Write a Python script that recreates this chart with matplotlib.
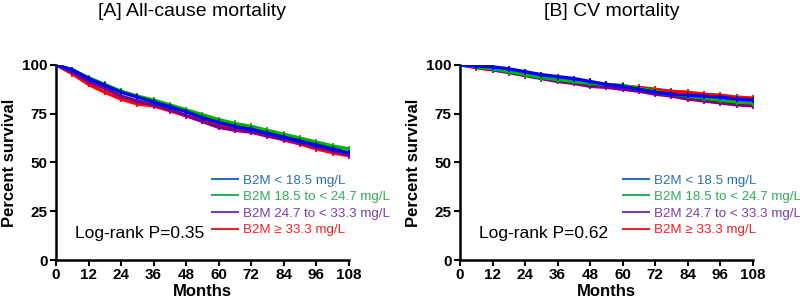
import matplotlib
matplotlib.use("Agg")
import matplotlib.pyplot as plt
from matplotlib.lines import Line2D

plt.rcParams['font.family'] = ['Liberation Sans', 'DejaVu Sans']

# survival (%) read every 6 months
months = [0, 6, 12, 18, 24, 30, 36, 42, 48, 54, 60, 66, 72, 78, 84, 90, 96, 102, 108]

allcause_lt185 = [100, 97.5, 93, 89.5, 86, 83.5, 81, 78.5, 76, 73, 70.5, 68.5, 67, 65, 63, 61, 59, 57, 55]
allcause_185_247 = [100, 97.5, 93.5, 90, 86.5, 84, 82, 79.5, 77, 74.5, 72, 70, 68.5, 66.5, 64.5, 62.5, 60.5, 58.5, 57]
allcause_247_333 = [100, 96.5, 91.5, 88, 84, 81.5, 79.5, 77, 74, 71, 68, 66.5, 65.5, 63.5, 62, 60, 58, 56, 54]
allcause_ge333 = [100, 95.5, 90, 86, 82.5, 80, 79, 76.5, 74, 71.5, 69, 67.5, 66, 64, 61.5, 59.5, 57, 55, 53.5]

cv_lt185 = [100, 99.5, 99, 98, 96.5, 95, 94, 93, 91.5, 90, 89, 87.5, 86, 85, 84.5, 84, 83.5, 82.5, 82]
cv_185_247 = [100, 99, 98, 96.5, 95, 93.5, 92.5, 91.5, 90.5, 90, 89.5, 88, 86.5, 85, 84, 83, 82, 81, 80.5]
cv_247_333 = [100, 99, 97.5, 96, 94.5, 93, 91.5, 90.5, 89, 88.5, 87.5, 86.5, 85, 84, 82.5, 81.5, 80.5, 79.5, 79]
cv_ge333 = [100, 98.5, 97.5, 96.5, 95, 93.5, 92.5, 91.5, 90.5, 89.5, 89, 88.5, 87.5, 86.5, 86, 85, 84.5, 83.5, 83]

group_labels = ['B2M < 18.5 mg/L', 'B2M 18.5 to < 24.7 mg/L',
                'B2M 24.7 to < 33.3 mg/L', 'B2M \u2265 33.3 mg/L']
curve_colors = ['#0000ff', '#00b400', '#800080', '#ff0000']
legend_colors = ['#2a6fb5', '#2fae5a', '#7b3fa6', '#e8232a']

panels = [
    ('[A] All-cause mortality', 'Log-rank P=0.35',
     [allcause_lt185, allcause_185_247, allcause_247_333, allcause_ge333]),
    ('[B] CV mortality', 'Log-rank P=0.62',
     [cv_lt185, cv_185_247, cv_247_333, cv_ge333]),
]

fig = plt.figure(figsize=(8, 3.06), dpi=100)
lefts = [0.07, 0.575]
title_x = [0.24, 0.765]
legend_x = [0.533, 0.556]

for i, (title, ptext, series) in enumerate(panels):
    ax = fig.add_axes([lefts[i], 0.150, 0.366, 0.638])
    # blue group drawn last so it sits on top
    for k in [3, 2, 1, 0]:
        ax.plot(months, series[k], color=curve_colors[k], lw=2.4,
                marker='|', ms=5, mew=1.3, zorder=3 + (3 - k))
    ax.set_xlim(0, 108)
    ax.set_ylim(0, 100)
    ax.set_xticks(range(0, 109, 12))
    ax.set_yticks([0, 25, 50, 75, 100])
    for s in ['top', 'right']:
        ax.spines[s].set_visible(False)
    for s in ['left', 'bottom']:
        ax.spines[s].set_linewidth(1.8)
    ax.tick_params(width=1.5, length=4, labelsize=11, pad=2)
    for lab in ax.get_xticklabels() + ax.get_yticklabels():
        lab.set_fontweight('bold')
    ax.set_xlabel('Months', fontsize=12, fontweight='bold', labelpad=1)
    ax.set_ylabel('Percent survival', fontsize=12, fontweight='bold', labelpad=4)
    ax.text(7, 13.5, ptext, fontsize=12.5, va='center')

    handles = [Line2D([0], [0], color=c, lw=1.5) for c in legend_colors]
    leg = ax.legend(handles, group_labels, loc='upper left',
                    bbox_to_anchor=(legend_x[i], 0.44),
                    frameon=False, fontsize=9.6, handlelength=1.95, handletextpad=0.4,
                    labelspacing=0.32, borderaxespad=0, borderpad=0)
    for t, c in zip(leg.get_texts(), legend_colors):
        t.set_color(c)

    fig.text(title_x[i], 0.962, title, fontsize=14, ha='center', va='center')

fig.savefig('out.png', dpi=100)
